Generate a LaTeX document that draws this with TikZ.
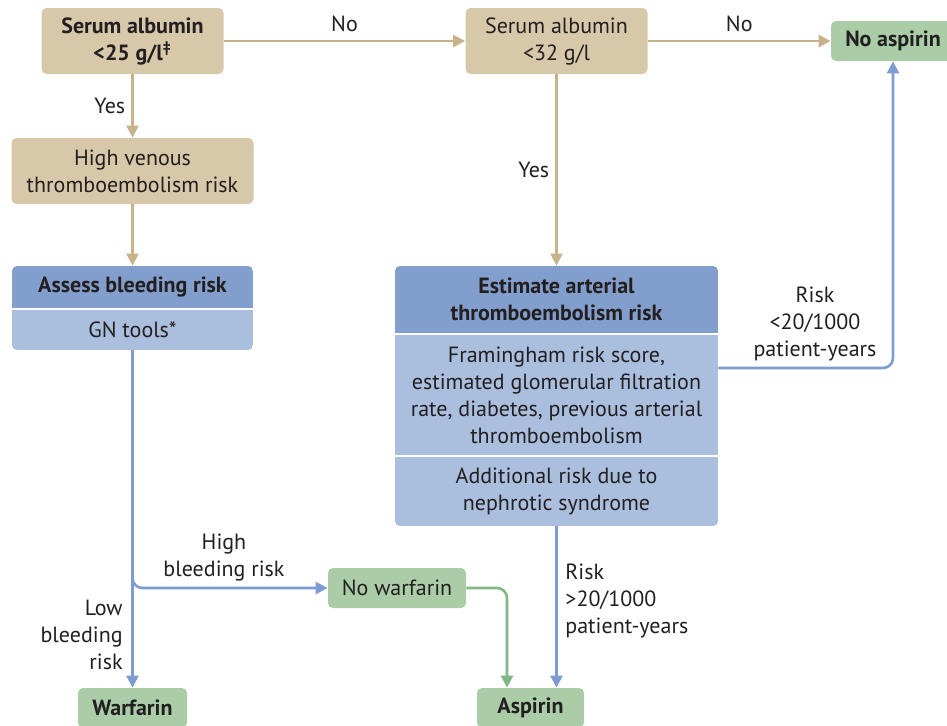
\documentclass[tikz,border=0pt]{standalone}
\usepackage{fontspec}
\setmainfont{PT Sans}
\usepackage{tikz}
\usetikzlibrary{arrows.meta,positioning}
\definecolor{boxtan}{RGB}{216,200,170}
\definecolor{arrowtan}{RGB}{200,178,138}
\definecolor{boxbluedark}{RGB}{130,158,204}
\definecolor{boxbluelight}{RGB}{170,190,222}
\definecolor{arrowblue}{RGB}{126,156,210}
\definecolor{boxgreen}{RGB}{170,205,168}
\definecolor{arrowgreen}{RGB}{128,184,132}
\definecolor{textdark}{RGB}{35,31,32}

\begin{document}
\begin{tikzpicture}[
    x=0.5pt, y=-0.5pt,
    box/.style={rectangle, rounded corners=2.5pt, align=center, inner sep=0pt, text=textdark, font=\fontsize{11}{13.5}\selectfont},
    tan/.style={box, fill=boxtan},
    hdr/.style={box, fill=boxbluedark, rounded corners=0pt, font=\fontsize{11}{13.5}\selectfont\bfseries},
    sub/.style={box, fill=boxbluelight, rounded corners=0pt},
    res/.style={box, fill=boxgreen},
    bold/.style={font=\fontsize{11}{13.5}\selectfont\bfseries},
    lbl/.style={align=center, inner sep=1pt, text=textdark, font=\fontsize{11}{13.5}\selectfont},
    arrow/.style={-{Triangle[length=6pt,width=6pt]}, line width=1.3pt},
    tanarrow/.style={arrow, draw=arrowtan},
    bluearrow/.style={arrow, draw=arrowblue, rounded corners=5pt},
    greenarrow/.style={arrow, draw=arrowgreen, rounded corners=5pt}
]
    \useasboundingbox (0,0) rectangle (947,725);

    % top row
    \node[tan, bold, minimum width=91pt, minimum height=33pt] (alb25) at (132.5,41) {Serum albumin\\<25 g/l\textsuperscript{‡}};
    \node[tan, minimum width=91pt, minimum height=33pt] (alb32) at (556.5,41) {Serum albumin\\<32 g/l};
    \node[res, bold, minimum width=62pt, minimum height=20pt] (noasp) at (893,41) {No aspirin};

    % venous side
    \node[tan, minimum width=121pt, minimum height=33pt] (venous) at (132.5,171) {High venous\\thromboembolism risk};
    \begin{scope}
        \clip[rounded corners=2.5pt] (12,266) rectangle (253,350);
        \node[hdr, minimum width=120.5pt, minimum height=21pt] (assess) at (132.5,287) {Assess bleeding risk};
        \node[sub, minimum width=120.5pt, minimum height=20pt] (gntools) at (132.5,330) {GN tools*};
    \end{scope}

    % arterial side
    \begin{scope}
        \clip[rounded corners=2.5pt] (395,266) rectangle (718,526);
        \node[hdr, minimum width=161.5pt, minimum height=33.5pt] (arterial) at (556.5,299.5) {Estimate arterial\\thromboembolism risk};
        \node[sub, minimum width=161.5pt, minimum height=60pt] (factors) at (556.5,395) {Framingham risk score,\\estimated glomerular filtration\\rate, diabetes, previous arterial\\thromboembolism};
        \node[sub, minimum width=161.5pt, minimum height=34.5pt] (nephrotic) at (556.5,491.5) {Additional risk due to\\nephrotic syndrome};
    \end{scope}

    % outcomes
    \node[res, minimum width=69pt, minimum height=20pt] (nowarf) at (397,588) {No warfarin};
    \node[res, bold, minimum width=54.5pt, minimum height=20pt] (warfarin) at (132.5,708) {Warfarin};
    \node[res, bold, minimum width=53.5pt, minimum height=20pt] (aspirin) at (530.5,708) {Aspirin};

    % labels
    \node[lbl] (lowrisk) at (815,324) {Risk\\<20/1000\\patient-years};
    \node[lbl] (highbleed) at (224,558) {High\\bleeding risk};
    \node[lbl, anchor=east, align=right] (lowbleed) at (125,635) {Low\\bleeding\\risk};
    \node[lbl, anchor=west, align=left] (highrisk) at (563,601) {Risk\\>20/1000\\patient-years};

    \draw[tanarrow] (alb25) -- node[lbl, above=3pt] (no1) {No} (alb32);
    \draw[tanarrow] (alb32) -- node[lbl, above=3pt] (no2) {No} (noasp);
    \draw[tanarrow] (alb25) -- node[lbl, left=2pt] (yes1) {Yes} (venous);
    \draw[tanarrow] (venous) -- (assess);
    \draw[tanarrow] (alb32) -- node[lbl, left=2pt] (yes2) {Yes} (arterial);

    \draw[bluearrow] (gntools) -- (warfarin);
    \draw[bluearrow] (gntools) |- (nowarf);
    \draw[bluearrow] (nephrotic.south) -- (nephrotic.south |- aspirin.north);
    \draw[bluearrow] ([yshift=13.5pt]factors.east) -| (noasp);
    \draw[greenarrow] (nowarf) -| ([xshift=-11.75pt]aspirin.north);
\end{tikzpicture}
\end{document}
